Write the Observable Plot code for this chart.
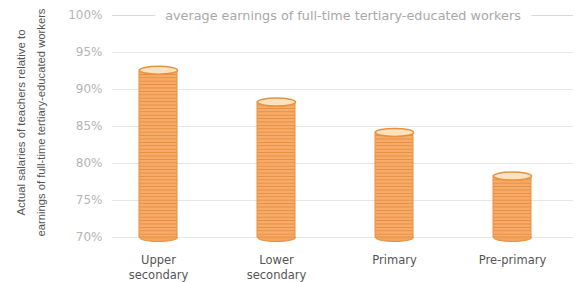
<!DOCTYPE html>
<html><head><meta charset="utf-8">
<script src="https://cdn.jsdelivr.net/npm/d3@7"></script>
<script src="https://cdn.jsdelivr.net/npm/@observablehq/plot@0.6"></script>
<style>body{margin:0;background:#fff}</style>
</head><body><div id="chart"></div>
<script>
const categories = ["Upper secondary", "Lower secondary", "Primary", "Pre-primary"];
const tickLabels = ["Upper\nsecondary", "Lower\nsecondary", "Primary", "Pre-primary"];
const values = [92.6, 88.3, 84.2, 78.3];
const yTicks = [70, 75, 80, 85, 90, 95];
const referenceLevel = 100;
const referenceLabel = "average earnings of full-time tertiary-educated workers";
const axisTitleLines = ["Actual salaries of teachers relative to", "earnings of full-time tertiary-educated workers"];

const data = categories.map((c, i) => ({category: c, value: values[i]}));
const font = "'DejaVu Sans', sans-serif";
const titleFont = "'Liberation Sans', Arial, sans-serif";

const ellipse = (rx, ry) => ({
  draw(ctx) {
    const k = 0.5523;
    ctx.moveTo(-rx, 0);
    ctx.bezierCurveTo(-rx, -ry * k, -rx * k, -ry, 0, -ry);
    ctx.bezierCurveTo(rx * k, -ry, rx, -ry * k, rx, 0);
    ctx.bezierCurveTo(rx, ry * k, rx * k, ry, 0, ry);
    ctx.bezierCurveTo(-rx * k, ry, -rx, ry * k, -rx, 0);
    ctx.closePath();
  }
});

const chart = Plot.plot({
  width: 577,
  height: 282,
  marginLeft: 112,
  marginRight: 4,
  marginTop: 15,
  marginBottom: 45,
  style: {fontFamily: font, background: "#fff"},
  x: {domain: categories, range: [138, 531.5], paddingInner: 0.68, paddingOuter: 0, label: null},
  y: {domain: [70, 100], label: null},
  marks: [
    Plot.ruleY(yTicks, {stroke: "#e6e6e6", strokeWidth: 1}),
    Plot.ruleY([referenceLevel], {stroke: "#d9d9d9", strokeWidth: 1}),
    Plot.text([referenceLabel], {y: referenceLevel, text: d => d, frameAnchor: "middle", fill: "#a8a8a8", fontSize: 12.8, stroke: "white", strokeWidth: 22, strokeLinejoin: "round", paintOrder: "stroke"}),
    Plot.axisY([...yTicks, referenceLevel], {tickSize: 0, tickPadding: 10, tickFormat: d => d + "%", fill: "#b5b5b5", fontSize: 12, label: null}),
    Plot.axisX({tickSize: 0, tickPadding: 16, tickFormat: d => tickLabels[categories.indexOf(d)], fill: "#555", fontSize: 11.5, lineHeight: 1.3, label: null}),
    Plot.dot(data, {x: "category", y: 70, symbol: ellipse(19, 4), fill: "#f2a45e", stroke: "#e58c3f", strokeWidth: 1, r: 5}),
    Plot.barY(data, {x: "category", y1: 70, y2: "value", fill: "url(#coins)", stroke: "#e8913f", strokeWidth: 1}),
    Plot.dot(data, {x: "category", y: "value", symbol: ellipse(19, 4), fill: "#fde2bf", stroke: "#e8913f", strokeWidth: 1.5, r: 5}),
    Plot.text([axisTitleLines[0]], {text: d => d, frameAnchor: "left", dx: -91, dy: -4, rotate: -90, fill: "#555", fontFamily: titleFont, fontSize: 11, textAnchor: "middle", className: "ytitle1"}),
    Plot.text([axisTitleLines[1]], {text: d => d, frameAnchor: "left", dx: -71, dy: -4, rotate: -90, fill: "#555", fontFamily: titleFont, fontSize: 11, textAnchor: "middle", className: "ytitle2"})
  ]
});

const ns = "http://www.w3.org/2000/svg";
const defs = document.createElementNS(ns, "defs");
defs.innerHTML = `<pattern id="coins" patternUnits="userSpaceOnUse" x="0" y="0" width="8" height="3.4">
  <rect width="8" height="3.4" fill="#f6ab68"/>
  <rect y="2.6" width="8" height="0.8" fill="#e58a3b"/>
</pattern>`;
chart.insertBefore(defs, chart.firstChild);
[["ytitle1", 186], ["ytitle2", 228]].forEach(([cls, len]) => {
  chart.querySelectorAll(`.${cls} text`).forEach(t => {
    t.setAttribute("textLength", len);
    t.setAttribute("lengthAdjust", "spacingAndGlyphs");
  });
});
document.getElementById("chart").appendChild(chart);
</script>
</body></html>
